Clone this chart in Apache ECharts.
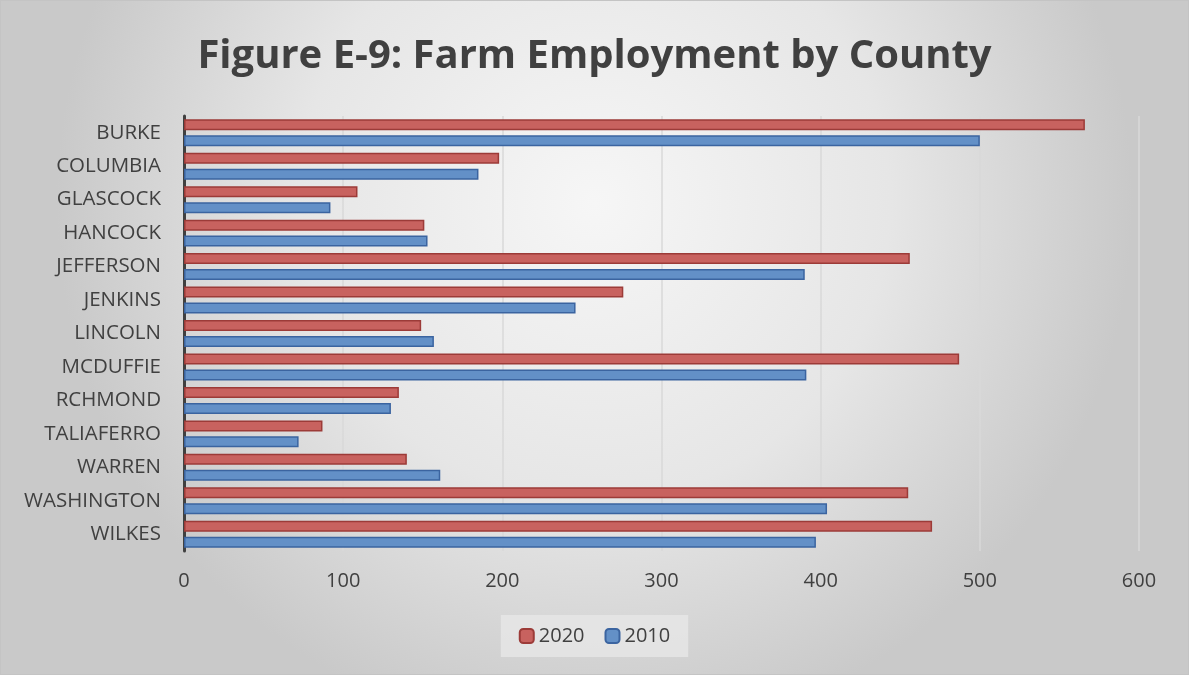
<!DOCTYPE html>
<html>
<head>
<meta charset="utf-8">
<script src="https://cdn.jsdelivr.net/npm/echarts@6/dist/echarts.min.js"></script>
<style>
  html, body { margin: 0; padding: 0; background: #ffffff; }
  #chart { width: 1189px; height: 675px; box-sizing: border-box; border: 1px solid #c4c4c4; }
</style>
</head>
<body>
<div id="chart"></div>
<script>
// Farm employment by county, 2020 vs 2010
const counties = ['BURKE', 'COLUMBIA', 'GLASCOCK', 'HANCOCK', 'JEFFERSON', 'JENKINS', 'LINCOLN',
  'MCDUFFIE', 'RCHMOND', 'TALIAFERRO', 'WARREN', 'WASHINGTON', 'WILKES'];
const employment2020 = [566, 198, 109, 151, 456, 276, 149, 487, 135, 87, 140, 455, 470];
const employment2010 = [500, 185, 92, 153, 390, 246, 157, 391, 130, 72, 161, 404, 397];
const xTicks = { min: 0, max: 600, interval: 100 };

const FONT = '"Open Sans", "Noto Sans", sans-serif';
const TEXT = '#404040';

const chart = echarts.init(document.getElementById('chart'), null, { renderer: 'canvas' });

chart.setOption({
  backgroundColor: {
    type: 'radial', x: 0.5, y: 0.3, r: 0.8,
    colorStops: [
      { offset: 0, color: '#f6f6f6' },
      { offset: 0.55, color: '#e6e6e6' },
      { offset: 1, color: '#c9c9c9' }
    ]
  },
  animation: false,
  title: {
    text: 'Figure E-9: Farm Employment by County',
    left: 'center',
    top: 31,
    textStyle: { fontFamily: FONT, fontSize: 40, fontWeight: 'bold', color: TEXT }
  },
  legend: {
    data: ['2020', '2010'],
    bottom: 17,
    left: 'center',
    itemWidth: 14,
    itemHeight: 14,
    itemGap: 20,
    padding: [11, 18],
    backgroundColor: 'rgba(232,232,232,0.75)',
    textStyle: { fontFamily: FONT, fontSize: 20, color: TEXT }
  },
  grid: { left: 183, right: 49, top: 115, bottom: 123, containLabel: false },
  xAxis: {
    type: 'value',
    min: xTicks.min,
    max: xTicks.max,
    interval: xTicks.interval,
    axisLine: { show: false },
    axisTick: { show: false },
    splitLine: { show: true, lineStyle: { color: '#d9d9d9', width: 1.5 } },
    axisLabel: { fontFamily: FONT, fontSize: 20, color: TEXT, margin: 20 }
  },
  yAxis: {
    type: 'category',
    data: counties,
    inverse: true,
    axisLine: { show: true, lineStyle: { color: '#404040', width: 3 } },
    axisTick: { show: false },
    axisLabel: { fontFamily: FONT, fontSize: 20.5, color: TEXT, margin: 23 }
  },
  series: [
    {
      name: '2020',
      type: 'bar',
      data: employment2020,
      barWidth: 11,
      barGap: '45%',
      itemStyle: { color: '#c8625f', borderColor: '#9c3b38', borderWidth: 1.5 }
    },
    {
      name: '2010',
      type: 'bar',
      data: employment2010,
      barWidth: 11,
      barGap: '45%',
      itemStyle: { color: '#6390c7', borderColor: '#3b64a0', borderWidth: 1.5 }
    }
  ]
});
</script>
</body>
</html>
